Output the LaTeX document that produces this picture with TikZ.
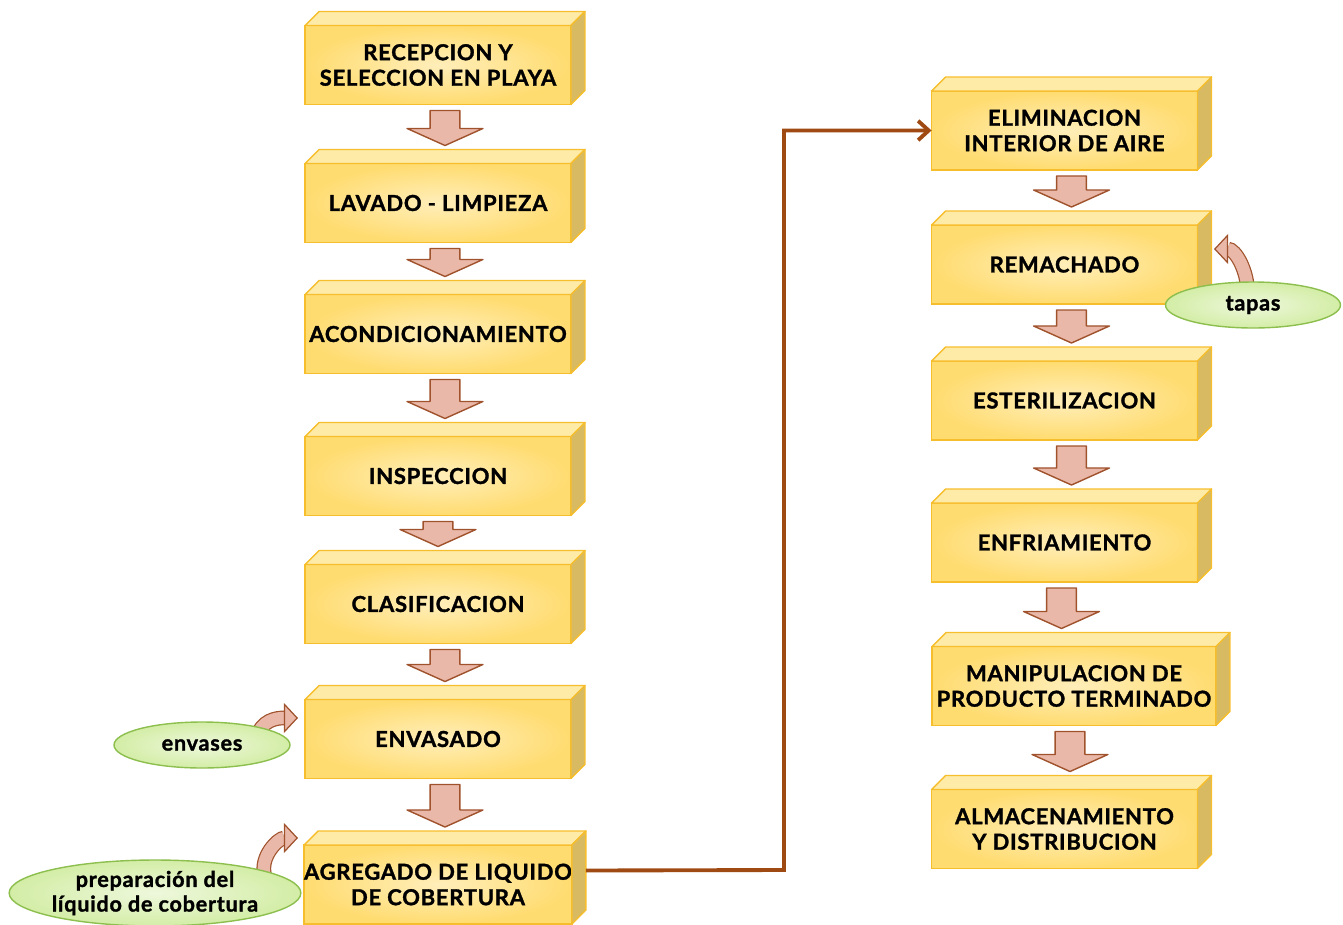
\documentclass[tikz,border=0pt]{standalone}
\usepackage{fontspec}
\setmainfont{Lato}[BoldFeatures = {FakeBold = 1.4, LetterSpace = 3.5}]
\usetikzlibrary{positioning, calc, shapes.geometric, arrows.meta, backgrounds}

\definecolor{boxline}{HTML}{F6BE2C}
\definecolor{boxedge}{HTML}{FFDC70}
\definecolor{boxmid}{HTML}{FFEEBA}
\definecolor{boxtop}{HTML}{FFEBA8}
\definecolor{boxside}{HTML}{D8BA62}
\definecolor{arrowfill}{HTML}{E9B8A8}
\definecolor{arrowline}{HTML}{A0522D}
\definecolor{flowline}{HTML}{9E4A12}
\definecolor{ovalline}{HTML}{8DBF4F}
\definecolor{ovaledge}{HTML}{D3EDA6}
\definecolor{ovalmid}{HTML}{EEF8DC}

\begin{document}
\begin{tikzpicture}[
      x = 0.02cm, y = -0.02cm,
      font = \fontsize{12.5}{14.5}\selectfont\bfseries,
      stage/.style = {rectangle, draw = boxline, thick, inner sep = 0pt, outer sep = 0pt,
        minimum width = 5.32cm, minimum height = 1.58cm, align = center,
        inner color = boxmid, outer color = boxedge},
      wide/.style = {minimum width = 5.68cm},
      topface/.style = {fill = boxtop, draw = boxline, thick, line join = round},
      sideface/.style = {fill = boxside, draw = boxline, thick, line join = round},
      blockarrow/.style = {fill = arrowfill, draw = arrowline, thick, line join = round},
      flow/.style = {draw = flowline, line width = 2.2pt, -{Straight Barb[length=6pt, width=11pt]}},
      oval/.style = {ellipse, draw = ovalline, thick, inner sep = 0pt, align = center,
        inner color = ovalmid, outer color = ovaledge,
        font = \fontsize{12.3}{14}\selectfont\bfseries},
      curl/.style = {draw = arrowline, double = arrowfill, double distance = 7pt, line width = 0.7pt,
        -{Triangle[length=8pt, width=17pt, fill = arrowfill]}}]

  \useasboundingbox (0,0) rectangle (1343,924);

  % left column
  \node [stage] (l1) at (438,65) {RECEPCION Y\\SELECCION EN PLAYA};
  \node [stage] (l2) at (438,203) {LAVADO - LIMPIEZA};
  \node [stage] (l3) at (438,334) {ACONDICIONAMIENTO};
  \node [stage] (l4) at (438,476) {INSPECCION};
  \node [stage] (l5) at (438,604) {CLASIFICACION};
  \node [stage] (l6) at (438,739) {ENVASADO};
  \node [stage] (l7) at (438,884.5) {AGREGADO DE LIQUIDO\\DE COBERTURA};

  % right column
  \node [stage] (r1) at (1064.5,130.5) {ELIMINACION\\INTERIOR DE AIRE};
  \node [stage] (r2) at (1064.5,264.5) {REMACHADO};
  \node [stage] (r3) at (1064.5,400.5) {ESTERILIZACION};
  \node [stage] (r4) at (1064.5,542.5) {ENFRIAMIENTO};
  \node [stage, wide] (r5) at (1074,686) {MANIPULACION DE\\PRODUCTO TERMINADO};
  \node [stage] (r6) at (1064.5,829) {ALMACENAMIENTO\\Y DISTRIBUCION};

  % depth of the boxes
  \foreach \n in {l1,l2,l3,l4,l5,l6,l7,r1,r2,r3,r4,r5,r6} {
    \draw [topface] (\n.north west) -- ++(14,-14) -| ($(\n.north east)+(14,-14)$) -- (\n.north east) -- cycle;
    \draw [sideface] (\n.north east) -- ++(14,-14) -- ($(\n.south east)+(14,-14)$) -- (\n.south east) -- cycle;
  }

  % block arrows between the steps
  \foreach \a/\b/\dx in {l1/l2/7, l2/l3/7, l3/l4/7, l4/l5/0, l5/l6/7, l6/l7/7,
                         r1/r2/7, r2/r3/7, r3/r4/7, r4/r5/-3, r5/r6/-4} {
    \draw [blockarrow] let \p1 = ($(\a.south)+(\dx,6)$), \p2 = ($(\b.north)+(0,-18)$) in
      (\x1-8.5pt,\y1) -- (\x1+8.5pt,\y1) -- (\x1+8.5pt,\y2+9.7pt) -- (\x1+21.6pt,\y2+9.7pt)
      -- (\x1,\y2) -- (\x1-21.6pt,\y2+9.7pt) -- (\x1-8.5pt,\y2+9.7pt) -- cycle;
  }

  % from the left column to the right one
  \coordinate (out) at ($(l7.east)+(14,-14)$);
  \coordinate (bend) at (784,870);
  \draw [flow] (out) -- (bend) |- (r1.west);

  % inputs
  \node [oval, minimum width = 3.52cm, minimum height = 0.92cm] (env) at (202,745) {envases};
  \node [oval, minimum width = 5.8cm, minimum height = 1.32cm] (prep) at (155,893) {preparación del\\líquido de cobertura};
  \node [oval, minimum width = 3.5cm, minimum height = 0.92cm] (tap) at (1253,305) {tapas};

  \coordinate (envin) at (298,718);
  \coordinate (prepin) at (298,838);
  \coordinate (tapin) at (1214,249);
  \begin{scope}[on background layer]
    \draw [curl] (env.north east) ++(-6,4) to [out=65, in=180] (envin);
    \draw [curl] (prep.north east) ++(6,6) to [out=105, in=180] (prepin);
    \draw [curl] (tap.north west) ++(57,4) to [out=90, in=0] (tapin);
  \end{scope}
\end{tikzpicture}
\end{document}
